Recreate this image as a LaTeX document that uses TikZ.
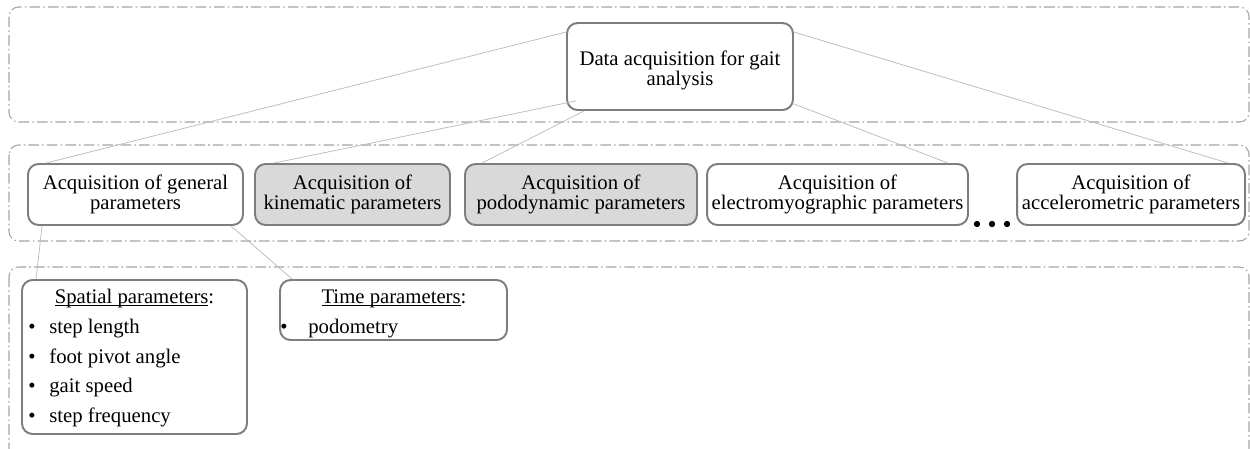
\documentclass[tikz,border=0pt]{standalone}
\usepackage{fontspec}
\setmainfont{Liberation Serif}
\usetikzlibrary{calc}
\definecolor{boxline}{RGB}{125,125,125}
\definecolor{boxfill}{RGB}{217,217,217}
\definecolor{linkline}{RGB}{190,190,190}
\definecolor{layerline}{RGB}{165,165,165}

\begin{document}
\begin{tikzpicture}[x=0.02cm,y=-0.02cm,
  layer/.style={draw=layerline, line width=0.6pt, rounded corners=5.5pt,
    dash pattern=on 6pt off 1.8pt on 0.9pt off 1.8pt},
  block/.style={draw=boxline, line width=1.1pt, rounded corners=6pt, fill=white,
    align=center, inner sep=0pt, font=\fontsize{11.8}{11.3}\selectfont},
  shaded/.style={block, fill=boxfill},
  link/.style={draw=linkline, line width=0.45pt},
  txt/.style={inner sep=0pt, anchor=base west, font=\fontsize{11.8}{12}\selectfont},
  ttl/.style={txt, anchor=base},
]
\useasboundingbox (0,0) rectangle (1250,449);
\begin{scope}
\clip (0,0) rectangle (1250,449);

% three levels of the hierarchy
\draw[layer] (9,7) rectangle (1249,122);
\draw[layer] (9,145) rectangle (1249,241);
\draw[layer] (9,267) rectangle (1249,458);

% root
\node[block, minimum width=4.52cm, minimum height=1.74cm] (root) at (680,66.5)
  {\rule{0pt}{12.5pt}Data acquisition for gait\\analysis};

% acquisition branches
\node[block, minimum width=4.3cm, minimum height=1.22cm] (gen) at (135.5,194.5)
  {Acquisition of general\\parameters};
\node[shaded, minimum width=3.9cm, minimum height=1.22cm] (kin) at (352.5,194.5)
  {Acquisition of\\kinematic parameters};
\node[shaded, minimum width=4.64cm, minimum height=1.22cm] (pod) at (581,194.5)
  {Acquisition of\\pododynamic parameters};
\node[block, minimum width=5.22cm, minimum height=1.22cm] (emg) at (837.5,194.5)
  {Acquisition of\\electromyographic parameters};
\node[block, minimum width=4.56cm, minimum height=1.22cm] (acc) at (1131,194.5)
  {Acquisition of\\accelerometric parameters};

% ellipsis between the last branches
\fill (977,224) circle (1.8pt);
\fill (992,224) circle (1.8pt);
\fill (1007,224) circle (1.8pt);

% general parameters split
\node[block, minimum width=4.5cm, minimum height=3.08cm] (spa) at (134.5,357) {};
\node[block, minimum width=4.54cm, minimum height=1.2cm] (tim) at (393.5,310) {};

\node[ttl] (spat) at (134.5,303) {\underline{\smash{Spatial parameters}}:};
\node[txt] (sb1) at (28,333) {\textbullet};
\node[txt] (si1) at (49,333) {step length};
\node[txt] (sb2) at (28,363) {\textbullet};
\node[txt] (si2) at (49,363) {foot pivot angle};
\node[txt] (sb3) at (28,392) {\textbullet};
\node[txt] (si3) at (49,392) {gait speed};
\node[txt] (sb4) at (28,422) {\textbullet};
\node[txt] (si4) at (49,422) {step frequency};

\node[ttl] (timt) at (394,303) {\underline{\smash{Time parameters}}:};
\node[txt] (tb1) at (280,333) {\textbullet};
\node[txt] (ti1) at (308,333) {podometry};

% connectors
\draw[link] ($(root.north west)+(0,10)$) -- ($(gen.north west)+(19,0)$);
\draw[link] ($(root.south west)+(10,-10)$) -- ($(kin.north west)+(20,0)$);
\draw[link] ($(root.south west)+(18,0)$) -- ($(pod.north west)+(18,0)$);
\draw[link] ($(root.south east)+(0,-7)$) -- ($(emg.north east)+(-21,0)$);
\draw[link] ($(root.north east)+(0,10)$) -- ($(acc.north east)+(-18,0)$);
\draw[link] ($(gen.south west)+(15,0)$) -- ($(spa.north west)+(15,0)$);
\draw[link] ($(gen.south east)+(-13,0)$) -- ($(tim.north west)+(13,0)$);
\end{scope}
\end{tikzpicture}
\end{document}
